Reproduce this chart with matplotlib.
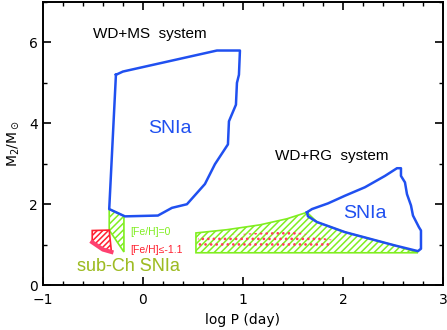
import matplotlib
matplotlib.use("Agg")
import matplotlib.pyplot as plt
import numpy as np

# WD+MS SNIa contour (log P, M2)
ms_logp = [-0.27, -0.20, 0.74, 0.97, 0.96, 0.94, 0.93, 0.86, 0.85, 0.72, 0.62,
           0.44, 0.29, 0.15, -0.18, -0.337, -0.27]
ms_m2 = [5.20, 5.28, 5.80, 5.80, 5.20, 5.00, 4.46, 4.05, 3.48, 2.99, 2.50,
         2.00, 1.91, 1.72, 1.70, 1.88, 5.20]

# WD+RG SNIa contour
rg_logp = [1.64, 1.69, 1.85, 2.02, 2.22, 2.42, 2.54, 2.58, 2.58, 2.62, 2.64,
           2.68, 2.70, 2.76, 2.78, 2.78, 2.75, 2.52, 2.02, 1.74, 1.65, 1.64]
rg_m2 = [1.80, 1.88, 2.02, 2.21, 2.42, 2.70, 2.89, 2.89, 2.70, 2.54, 2.25,
         1.97, 1.72, 1.43, 1.35, 0.90, 0.84, 0.98, 1.31, 1.56, 1.70, 1.80]

# [Fe/H]=0 regions (green hatch)
ms_fe0_logp = [-0.337, -0.19, -0.19, -0.337]
ms_fe0_m2 = [1.88, 1.71, 0.82, 1.36]
rg_fe0_logp = [0.53, 0.84, 1.17, 1.44, 1.64, 1.74, 2.02, 2.52, 2.75, 0.53]
rg_fe0_m2 = [1.29, 1.37, 1.49, 1.64, 1.80, 1.56, 1.31, 0.98, 0.80, 0.80]

# [Fe/H]<=-1.1 regions (red)
ms_fe11_logp = [-0.507, -0.337, -0.315, -0.40, -0.507]
ms_fe11_m2 = [1.35, 1.36, 0.82, 0.88, 1.06]
rg_fe11_logp = [0.55, 1.20, 1.50, 1.89, 1.89, 0.55]
rg_fe11_m2 = [1.19, 1.30, 1.33, 1.12, 0.96, 0.96]

blue = "#2050f0"
green = "#80ee20"
red = "#ff2030"

plt.rcParams["font.family"] = ["DejaVu Sans"]
plt.rcParams["hatch.linewidth"] = 1.1
fig = plt.figure(figsize=(4.47, 3.30), dpi=100)
ax = fig.add_axes([0.096, 0.136, 0.895, 0.858])

ax.fill(rg_fe0_logp, rg_fe0_m2, facecolor="none", edgecolor=green,
        hatch="/////", linewidth=1.2)
ax.fill(rg_fe11_logp, rg_fe11_m2, facecolor="none", edgecolor="#ff3c5a",
        hatch="...", linewidth=0)
ax.fill(ms_fe0_logp, ms_fe0_m2, facecolor="none", edgecolor=green,
        hatch="/////", linewidth=1.2)
ax.fill(ms_fe11_logp, ms_fe11_m2, facecolor="none", edgecolor=red,
        hatch="//////", linewidth=1.2)
ax.plot(ms_fe11_logp[2:], ms_fe11_m2[2:], color="#ff4070", lw=3)

ax.plot(ms_logp, ms_m2, color=blue, lw=1.8)
ax.plot(rg_logp, rg_m2, color=blue, lw=1.8)

ann = ["Liberation Sans", "DejaVu Sans"]
ax.text(-0.5, 6.22, "WD+MS  system", fontsize=11, va="center", family=ann)
ax.text(1.32, 3.19, "WD+RG  system", fontsize=11, va="center", family=ann)
ax.text(0.27, 3.86, "SNIa", fontsize=14, color=blue, ha="center", va="center",
        family=ann)
ax.text(2.22, 1.77, "SNIa", fontsize=14, color=blue, ha="center", va="center",
        family=ann)
ax.text(-0.13, 1.31, "[Fe/H]=0", fontsize=7.5, color=green, va="center", family=ann)
ax.text(-0.13, 0.86, "[Fe/H]\u2264-1.1", fontsize=7.5, color=red, va="center",
        family=ann)
ax.text(-0.66, 0.47, "sub-Ch SNIa", fontsize=13, color=green, va="center", family=ann)
ax.text(-0.66, 0.47, "sub-Ch SNIa", fontsize=13, color=red, va="center",
        alpha=0.25, family=ann)

ax.set_xlim(-1, 3)
ax.set_ylim(0, 7)
ax.set_xticks([-1, 0, 1, 2, 3])
ax.set_yticks([0, 2, 4, 6])
ax.set_xticks(np.arange(-1, 3.01, 0.2), minor=True)
ax.set_yticks(np.arange(0, 7.01, 1), minor=True)
ax.tick_params(which="both", direction="in", top=True, right=True, labelsize=10)
ax.tick_params(which="major", length=6, width=1.2)
ax.tick_params(which="minor", length=3, width=1)
ax.tick_params(axis="x", pad=6)
for s in ax.spines.values():
    s.set_linewidth(1.4)

ax.set_xlabel("log P (day)", fontsize=10, labelpad=4)
ax.set_ylabel(r"M$_2$/M$_\odot$", fontsize=10, labelpad=6)

fig.savefig("out.png", dpi=100)
